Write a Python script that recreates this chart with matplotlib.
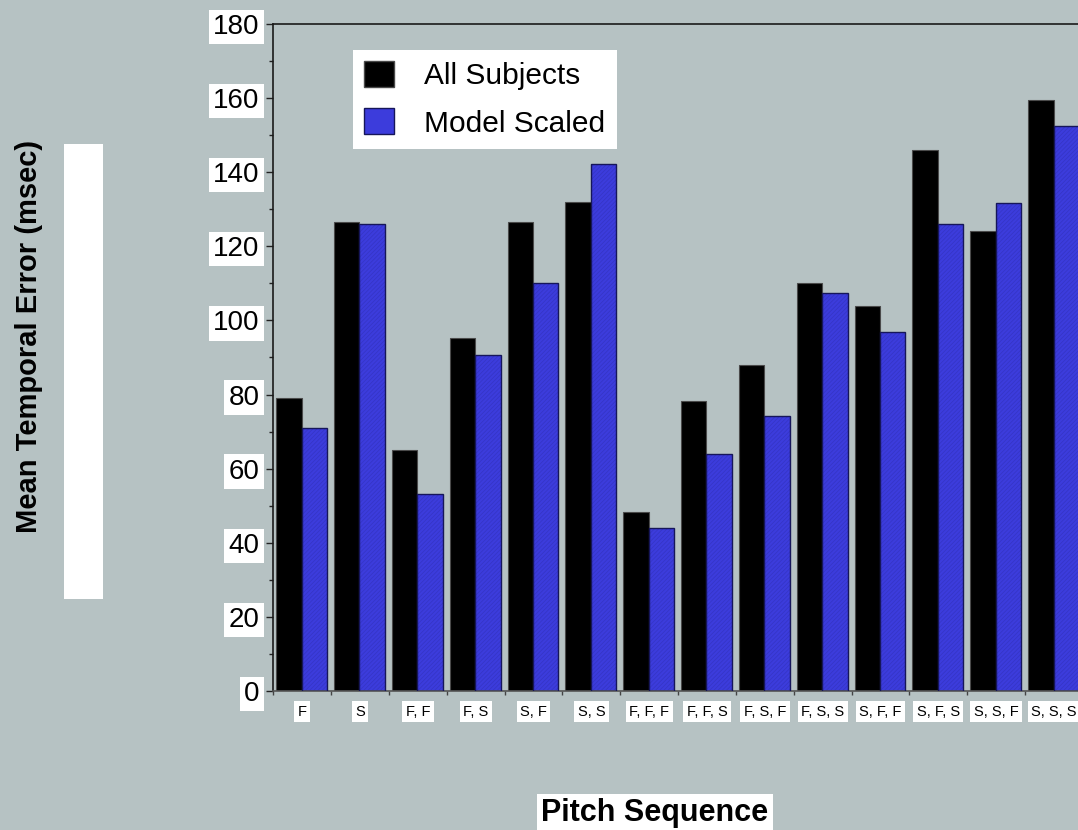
import numpy as np
import matplotlib.pyplot as plt
from matplotlib.patches import Rectangle, Patch

plt.rcParams['font.family'] = ['Liberation Sans', 'DejaVu Sans']
plt.rcParams['hatch.linewidth'] = 0.5

# data
sequences = ['F', 'S', 'F, F', 'F, S', 'S, F', 'S, S', 'F, F, F', 'F, F, S',
             'F, S, F', 'F, S, S', 'S, F, F', 'S, F, S', 'S, S, F', 'S, S, S']
all_subjects = [79.1, 126.7, 65.0, 95.2, 126.6, 132.0, 48.2, 78.3, 88.0, 110.0, 104.0, 145.9, 124.2, 159.6]
model_scaled = [70.9, 126.0, 53.2, 90.7, 110.2, 142.2, 44.1, 64.0, 74.2, 107.4, 97.0, 125.9, 131.7, 152.5]

bg = '#b6c2c3'
blue = '#3c3cdc'

fig = plt.figure(figsize=(10.78, 8.3), dpi=100)
fig.patch.set_facecolor(bg)

# axes extends a bit past the right edge (cut off like the original)
ax = fig.add_axes([273.3 / 1078, 1 - 691 / 830, (1083 - 273.3) / 1078, 667 / 830])
ax.set_facecolor(bg)

x = np.arange(len(sequences))
ax.bar(x + 0.27, all_subjects, width=0.44, color='black', edgecolor='#4a4a4a', linewidth=0.8, zorder=2)
ax.bar(x + 0.71, model_scaled, width=0.44, color=blue, edgecolor='#3434c4', hatch='////////', linewidth=0, zorder=2)
ax.bar(x + 0.71, model_scaled, width=0.44, fill=False, edgecolor='#16165a', linewidth=1.0, zorder=3)

ax.set_xlim(0, len(sequences))
ax.set_ylim(0, 180)

# y axis
ax.set_yticks(np.arange(0, 181, 20))
ax.set_yticks(np.arange(0, 181, 10), minor=True)
ax.tick_params(axis='y', which='major', direction='out', length=5, width=1, pad=5, labelsize=20, color='#222222')
ax.tick_params(axis='y', which='minor', direction='out', length=3, width=1, color='#222222')
for lab in ax.get_yticklabels():
    lab.set_bbox(dict(facecolor='white', edgecolor='none', pad=3))

# x axis: boundary ticks, labels at group centres
ax.set_xticks(np.arange(0, len(sequences) + 1))
ax.set_xticklabels([])
ax.set_xticks(x + 0.5, minor=True)
ax.set_xticklabels(sequences, minor=True)
ax.tick_params(axis='x', which='major', direction='out', length=3, width=1, color='#444444')
ax.tick_params(axis='x', which='minor', length=0, pad=10, labelsize=10.5)
for lab in ax.get_xticklabels(minor=True):
    lab.set_bbox(dict(facecolor='white', edgecolor='none', pad=2.5))

for side in ['left', 'top']:
    ax.spines[side].set_color('#1a1a1a')
    ax.spines[side].set_linewidth(1.2)
ax.spines['bottom'].set_color('#555555')
ax.spines['bottom'].set_linewidth(1.2)
ax.spines['right'].set_visible(False)

# legend
handles = [Patch(facecolor='black', edgecolor='#4a4a4a', label='All Subjects'),
           Patch(facecolor=blue, edgecolor='#16165a', label='Model Scaled')]
leg = ax.legend(handles=handles, loc='upper left', bbox_to_anchor=(353 / 1078, 1 - 50 / 830),
                bbox_transform=fig.transFigure, fontsize=21.5, frameon=True, fancybox=False,
                borderaxespad=0, borderpad=0.38, handlelength=1.0, handleheight=0.95,
                handletextpad=1.0, labelspacing=0.6)
leg.get_frame().set_facecolor('white')
leg.get_frame().set_edgecolor('none')
leg.get_frame().set_alpha(1)

# axis titles
fig.text(29 / 1078, 1 - 336 / 830, 'Mean Temporal Error (msec)', rotation=90,
         ha='center', va='center', fontsize=21, fontweight='bold')
fig.text(655 / 1078, 1 - 813 / 830, 'Pitch Sequence', ha='center', va='center',
         fontsize=22, fontweight='bold',
         bbox=dict(facecolor='white', edgecolor='none', pad=3))

# stray white box at the left
fig.patches.append(Rectangle((64 / 1078, 1 - 599 / 830), 39 / 1078, 455 / 830,
                             transform=fig.transFigure, facecolor='white', edgecolor='none'))

fig.savefig('out.png', dpi=100, facecolor=bg)
